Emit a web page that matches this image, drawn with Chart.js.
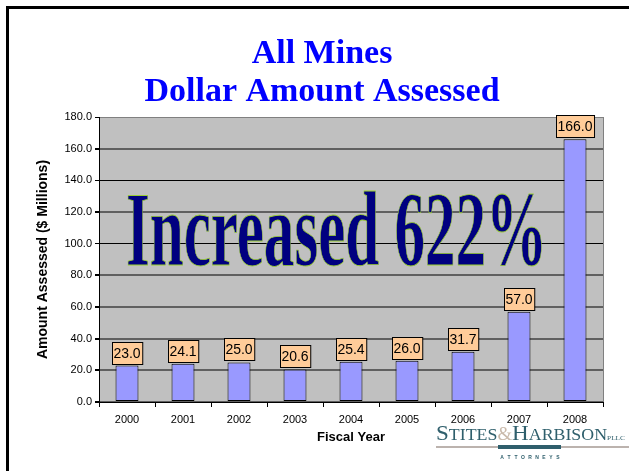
<!DOCTYPE html>
<html>
<head>
<meta charset="utf-8">
<script src="https://cdn.jsdelivr.net/npm/chart.js@4.4.1/dist/chart.umd.min.js"></script>
<style>
  body { margin: 0; background: #fff; }
  #wrap { position: relative; width: 629px; height: 471px; }
</style>
</head>
<body>
<div id="wrap"><canvas id="myChart" width="629" height="471"></canvas></div>
<script>
// chart data
const fiscalYears = ["2000", "2001", "2002", "2003", "2004", "2005", "2006", "2007", "2008"];
const amountAssessed = [23.0, 24.1, 25.0, 20.6, 25.4, 26.0, 31.7, 57.0, 166.0];
const titleLines = ["All Mines", "Dollar Amount Assessed"];
const calloutText = "Increased 622%";
const yMax = 180;
const yStep = 20;

// background of the plot, frame, title, labels, callout and logo
const slidePlugin = {
  id: "slide",
  beforeDraw(chart) {
    const { ctx, chartArea: a } = chart;
    ctx.save();
    ctx.fillStyle = "#c0c0c0";
    ctx.fillRect(a.left, a.top, a.right - a.left, a.bottom - a.top);
    ctx.restore();
  },
  afterDatasetsDraw(chart) {
    const ctx = chart.ctx;
    const meta = chart.getDatasetMeta(0);
    ctx.save();
    ctx.font = "14px Arial, 'Liberation Sans'";
    ctx.textAlign = "center";
    ctx.textBaseline = "middle";
    meta.data.forEach((bar, i) => {
      const txt = amountAssessed[i].toFixed(1);
      const w = ctx.measureText(txt).width + 3;
      const h = 22;
      const bx = Math.round(bar.x - w / 2) + 0.5;
      const by = Math.round(bar.y - 2 - h) + 0.5;
      ctx.fillStyle = "#ffcc99";
      ctx.fillRect(bx, by, w, h);
      ctx.strokeStyle = "#000";
      ctx.lineWidth = 1;
      ctx.strokeRect(bx, by, w, h);
      ctx.fillStyle = "#000";
      ctx.fillText(txt, bar.x, by + h / 2 + 1);
    });

    // big callout text over the plot
    ctx.font = "bold 106px 'Liberation Serif', 'Times New Roman', serif";
    ctx.textAlign = "left";
    ctx.textBaseline = "alphabetic";
    const tw = ctx.measureText(calloutText).width;
    ctx.translate(126, 265);
    ctx.scale(421 / tw, 1);
    ctx.fillStyle = "#000080";
    ctx.fillText(calloutText, 0, 0);
    ctx.strokeStyle = "#9acd32";
    ctx.lineWidth = 0.8;
    ctx.strokeText(calloutText, 0, 0);
    ctx.restore();
  },
  afterDraw(chart) {
    const { ctx, chartArea: a } = chart;
    ctx.save();
    // right edge of plot area
    ctx.strokeStyle = "#808080";
    ctx.lineWidth = 1;
    ctx.beginPath();
    ctx.moveTo(Math.round(a.right) + 0.5, a.top);
    ctx.lineTo(Math.round(a.right) + 0.5, a.bottom);
    ctx.stroke();

    // slide frame
    ctx.fillStyle = "#000";
    ctx.fillRect(6, 6, 623, 3);
    ctx.fillRect(6, 6, 3, 465);

    // title
    ctx.fillStyle = "#0000ff";
    ctx.font = "bold 34px 'Liberation Serif', 'Times New Roman', serif";
    ctx.textAlign = "center";
    ctx.textBaseline = "alphabetic";
    ctx.fillText(titleLines[0], 322, 63);
    ctx.fillText(titleLines[1], 322, 101);

    // logo
    const teal = "#2f5f6c";
    const serif = "px 'Liberation Serif', 'Times New Roman', serif";
    const parts = [
      ["S", 22, teal], ["TITES", 17, teal], ["&", 18, "#c9b9aa"],
      ["H", 22, teal], ["ARBISON", 17, teal], ["PLLC", 7, teal]
    ];
    ctx.textAlign = "left";
    let total = 0;
    parts.forEach((p) => { ctx.font = p[1] + serif; total += ctx.measureText(p[0]).width; });
    ctx.translate(436, 440);
    ctx.scale(189 / total, 1);
    let x = 0;
    parts.forEach((p) => {
      ctx.font = p[1] + serif;
      ctx.fillStyle = p[2];
      ctx.fillText(p[0], x, 0);
      x += ctx.measureText(p[0]).width;
    });
    ctx.setTransform(1, 0, 0, 1, 0, 0);
    ctx.fillStyle = "#bcb3ae";
    ctx.fillRect(436, 446, 193, 2);
    ctx.fillStyle = teal;
    ctx.fillRect(498, 445, 63, 4);
    ctx.font = "bold 5px Arial, 'Liberation Sans'";
    ctx.textAlign = "center";
    ctx.textBaseline = "middle";
    "ATTORNEYS".split("").forEach((ch, i) => {
      ctx.fillText(ch, 502 + i * 7, 458);
    });
    ctx.restore();
  }
};

const ctx = document.getElementById("myChart").getContext("2d");
new Chart(ctx, {
  type: "bar",
  data: {
    labels: fiscalYears,
    datasets: [{
      data: amountAssessed,
      backgroundColor: "#9999ff",
      borderColor: "#000",
      borderWidth: 1,
      borderSkipped: false,
      categoryPercentage: 1,
      barPercentage: 0.41
    }]
  },
  options: {
    responsive: false,
    animation: false,
    devicePixelRatio: 1,
    layout: { padding: { left: 35, right: 26, top: 117, bottom: 0 } },
    plugins: {
      legend: { display: false },
      tooltip: { enabled: false }
    },
    scales: {
      x: {
        afterFit: (s) => { s.height = 69; },
        grid: { offset: true, drawOnChartArea: false, tickLength: 5, tickColor: "#000" },
        border: { color: "#000" },
        ticks: { color: "#000", font: { family: "Arial, 'Liberation Sans'", size: 11 }, padding: 6 },
        title: {
          display: true,
          text: "Fiscal Year",
          color: "#000",
          font: { family: "Arial, 'Liberation Sans'", size: 13, weight: "bold" },
          padding: { top: 0, bottom: 26 }
        }
      },
      y: {
        min: 0,
        max: yMax,
        afterFit: (s) => { s.width = 64; },
        grid: {
          color: (c) => c.tick.value === yMax ? "#808080" : (c.tick.value === 100 || c.tick.value === 140 ? "#000" : "#606060"),
          lineWidth: (c) => (c.tick.value === 100 || c.tick.value === 140 || c.tick.value === yMax) ? 1 : 2,
          tickLength: 4,
          tickColor: "#000"
        },
        border: { color: "#000" },
        ticks: {
          stepSize: yStep,
          color: "#000",
          padding: 3,
          font: { family: "Arial, 'Liberation Sans'", size: 11 },
          callback: (v) => v.toFixed(1)
        },
        title: {
          display: true,
          text: "Amount Assessed ($ Millions)",
          color: "#000",
          font: { family: "Arial, 'Liberation Sans'", size: 14, weight: "bold" },
          padding: { top: 0, bottom: 0 }
        }
      }
    }
  },
  plugins: [slidePlugin]
});
</script>
</body>
</html>
